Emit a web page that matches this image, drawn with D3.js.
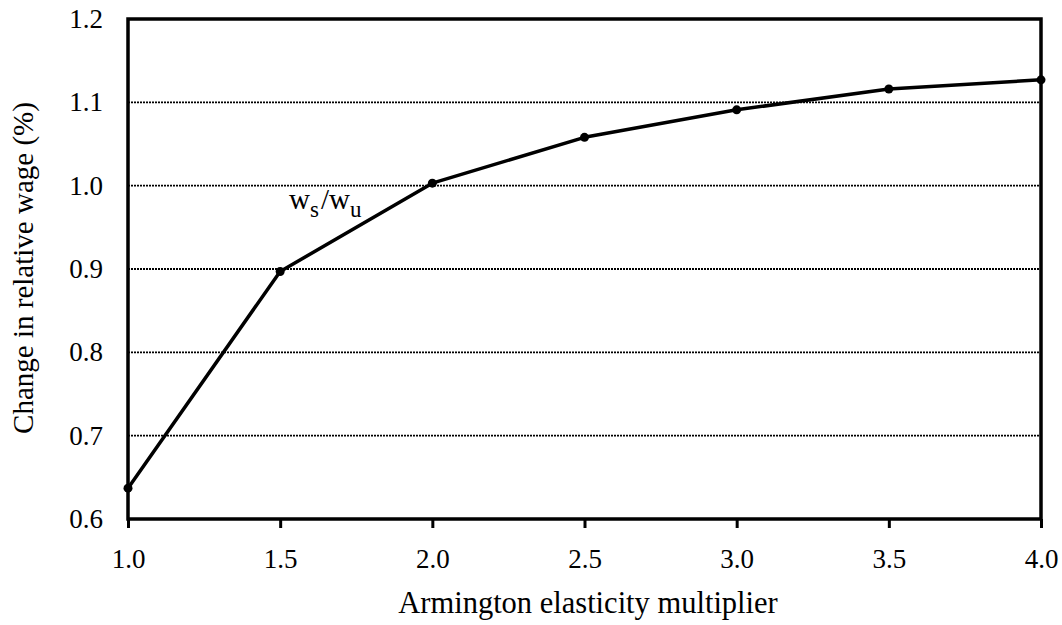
<!DOCTYPE html>
<html><head><meta charset="utf-8">
<script src="https://cdn.jsdelivr.net/npm/d3@7"></script>
<style>body{margin:0;background:#fff}svg{display:block}text{font-family:"Liberation Serif","Times New Roman",serif;fill:#000}</style>
</head><body><svg id="c" width="1062" height="625"></svg>
<script>
const xValues = [1.0, 1.5, 2.0, 2.5, 3.0, 3.5, 4.0];
const relWage = [0.637, 0.897, 1.003, 1.058, 1.091, 1.116, 1.127];
const xTicks = [1.0, 1.5, 2.0, 2.5, 3.0, 3.5, 4.0];
const yTicks = [0.6, 0.7, 0.8, 0.9, 1.0, 1.1, 1.2];
const gridTicks = [0.7, 0.8, 0.9, 1.0, 1.1];
const xTitle = "Armington elasticity multiplier";
const yTitle = "Change in relative wage (%)";

const svg = d3.select("#c");
const L = 128, R = 1041, T = 19, B = 519;
const x = d3.scaleLinear().domain([1, 4]).range([L, R]);
const y = d3.scaleLinear().domain([0.6, 1.2]).range([B, T]);

// gridlines
svg.append("g").selectAll("line").data(gridTicks).join("line")
  .attr("x1", L).attr("x2", R).attr("y1", d => y(d)).attr("y2", d => y(d))
  .attr("stroke", "#000").attr("stroke-width", 1.8).attr("stroke-dasharray", "2,1");

// x axis
const xa = svg.append("g").attr("transform", `translate(0,${B})`)
  .call(d3.axisBottom(x).tickValues(xTicks).tickSize(9).tickPadding(21).tickFormat(d3.format(".1f")));
xa.select(".domain").remove();
xa.selectAll("line").attr("stroke-width", 3);
xa.selectAll("text").attr("font-size", 27).style("font-family", '"Liberation Serif",serif');

// y axis
const ya = svg.append("g").attr("transform", `translate(${L},0)`)
  .call(d3.axisLeft(y).tickValues(yTicks).tickSize(0).tickPadding(25).tickFormat(d3.format(".1f")));
ya.select(".domain").remove();
ya.selectAll("text").attr("font-size", 27).style("font-family", '"Liberation Serif",serif');

// frame
svg.append("rect").attr("x", L).attr("y", T).attr("width", R - L).attr("height", B - T)
  .attr("fill", "none").attr("stroke", "#000").attr("stroke-width", 3.5);

// line
const pts = xValues.map((v, i) => [v, relWage[i]]);
svg.append("path").datum(pts)
  .attr("d", d3.line().x(d => x(d[0])).y(d => y(d[1])))
  .attr("fill", "none").attr("stroke", "#000").attr("stroke-width", 3.5).attr("stroke-linejoin", "round");
svg.append("g").selectAll("circle").data(pts).join("circle")
  .attr("cx", d => x(d[0])).attr("cy", d => y(d[1])).attr("r", 4.5).attr("fill", "#000");

// label
const lab = svg.append("text").attr("x", 289).attr("y", 209).attr("font-size", 29);
lab.append("tspan").text("w");
lab.append("tspan").attr("font-size", 23).attr("dy", 8).text("s");
lab.append("tspan").attr("dy", -8).attr("dx", 2).text("/w");
lab.append("tspan").attr("font-size", 23).attr("dy", 8).text("u");

// titles
svg.append("text").attr("x", 588).attr("y", 613).attr("text-anchor", "middle")
  .attr("font-size", 30.5).text(xTitle);
svg.append("text").attr("transform", `translate(33,268) rotate(-90)`)
  .attr("text-anchor", "middle").attr("font-size", 29).text(yTitle);
</script></body></html>
